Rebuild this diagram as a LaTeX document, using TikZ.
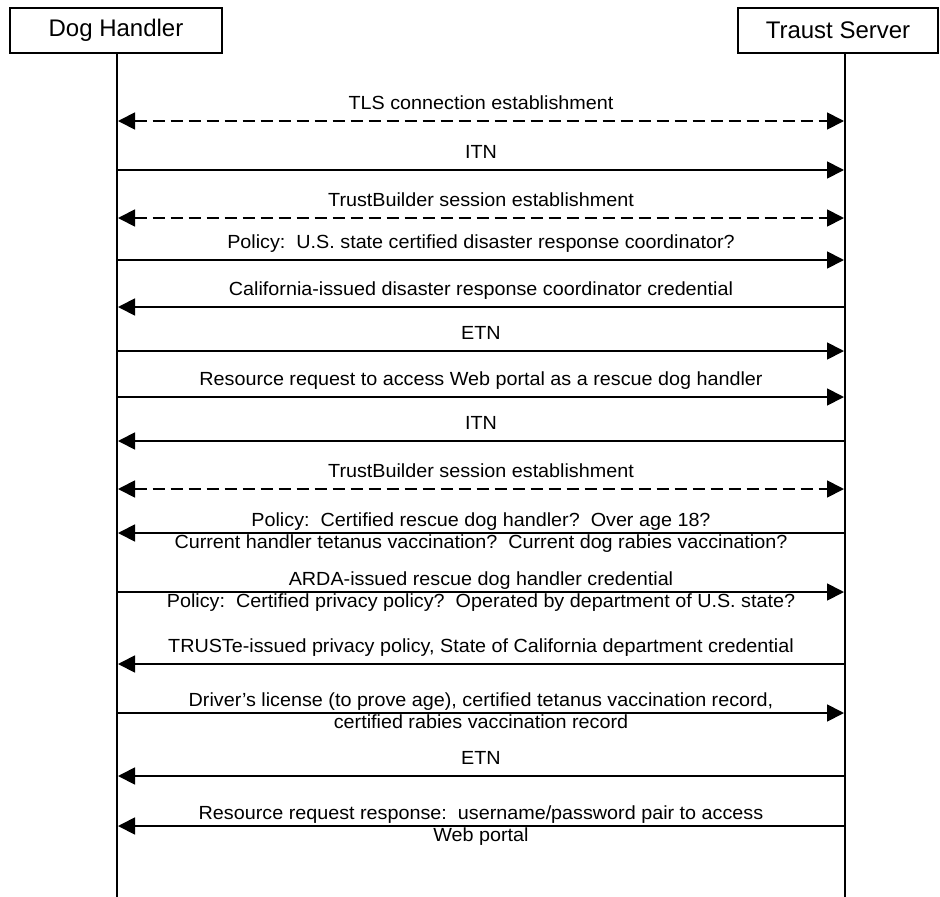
\documentclass[tikz,border=0pt]{standalone}
\usepackage{fontspec}
\setmainfont{Liberation Sans}
\newfontfamily\lblfont[FakeStretch=1.04]{Liberation Sans}
\usetikzlibrary{arrows.meta}
\begin{document}
\begin{tikzpicture}[x=1pt,y=-1pt,
  actor/.style={draw,line width=1.8pt,inner sep=0pt,font=\fontsize{24}{28}\selectfont},
  life/.style={line width=1.8pt},
  tip/.tip={Triangle[length=17pt,width=17pt]},
  msg/.style={line width=1.8pt,-tip,shorten >=1pt},
  dmsg/.style={line width=1.8pt,tip-tip,shorten >=1pt,shorten <=1pt,dash pattern=on 12pt off 6pt},
  lbl/.style={font=\lblfont\fontsize{19}{22}\selectfont,inner sep=0pt,anchor=base}
]
\useasboundingbox (0,0) rectangle (940,897);
% actors
\node[actor,minimum width=212pt,minimum height=45pt] (dh) at (116,30.5) {Dog Handler};
\node[actor,minimum width=200pt,minimum height=45pt] (ts) at (838,30.5) {Traust Server};
\coordinate (dhend) at (117,897);
\coordinate (tsend) at (845,897);
\draw[life] (dh.south -| dhend) -- (dhend);
\draw[life] (ts.south -| tsend) -- (tsend);
% message anchor points on the lifelines
\foreach \i/\y in {1/121,2/170,3/218,4/260,5/307,6/351,7/397,8/441,9/489,10/533,11/592,12/664,13/713,14/776,15/826}{
  \coordinate (L\i) at (117,\y);
  \coordinate (R\i) at (845,\y);
}
\def\cx{481}
% 1
\draw[dmsg] (L1) -- (R1);
\node[lbl] (t1) at (\cx,109) {TLS connection establishment};
% 2
\draw[msg] (L2) -- (R2);
\node[lbl] (t2) at (\cx,158) {ITN};
% 3
\draw[dmsg] (L3) -- (R3);
\node[lbl] (t3) at (\cx,206) {TrustBuilder session establishment};
% 4
\draw[msg] (L4) -- (R4);
\node[lbl] (t4) at (\cx,248) {Policy:\ \ U.S. state certified disaster response coordinator?};
% 5
\draw[msg] (R5) -- (L5);
\node[lbl] (t5) at (\cx,295) {California-issued disaster response coordinator credential};
% 6
\draw[msg] (L6) -- (R6);
\node[lbl] (t6) at (\cx,339) {ETN};
% 7
\draw[msg] (L7) -- (R7);
\node[lbl] (t7) at (\cx,385) {Resource request to access Web portal as a rescue dog handler};
% 8
\draw[msg] (R8) -- (L8);
\node[lbl] (t8) at (\cx,429) {ITN};
% 9
\draw[dmsg] (L9) -- (R9);
\node[lbl] (t9) at (\cx,477) {TrustBuilder session establishment};
% 10
\draw[msg] (R10) -- (L10);
\node[lbl] (t10a) at (\cx,526) {Policy:\ \ Certified rescue dog handler?\ \ Over age 18?};
\node[lbl] (t10b) at (\cx,548) {Current handler tetanus vaccination?\ \ Current dog rabies vaccination?};
% 11
\draw[msg] (L11) -- (R11);
\node[lbl] (t11a) at (\cx,585) {ARDA-issued rescue dog handler credential};
\node[lbl] (t11b) at (\cx,607) {Policy:\ \ Certified privacy policy?\ \ Operated by department of U.S. state?};
% 12
\draw[msg] (R12) -- (L12);
\node[lbl] (t12) at (\cx,652) {TRUSTe-issued privacy policy, State of California department credential};
% 13
\draw[msg] (L13) -- (R13);
\node[lbl] (t13a) at (\cx,706) {Driver’s license (to prove age), certified tetanus vaccination record,};
\node[lbl] (t13b) at (\cx,728) {certified rabies vaccination record};
% 14
\draw[msg] (R14) -- (L14);
\node[lbl] (t14) at (\cx,764) {ETN};
% 15
\draw[msg] (R15) -- (L15);
\node[lbl] (t15a) at (\cx,819) {Resource request response:\ \ username/password pair to access};
\node[lbl] (t15b) at (\cx,841) {Web portal};
\end{tikzpicture}
\end{document}
